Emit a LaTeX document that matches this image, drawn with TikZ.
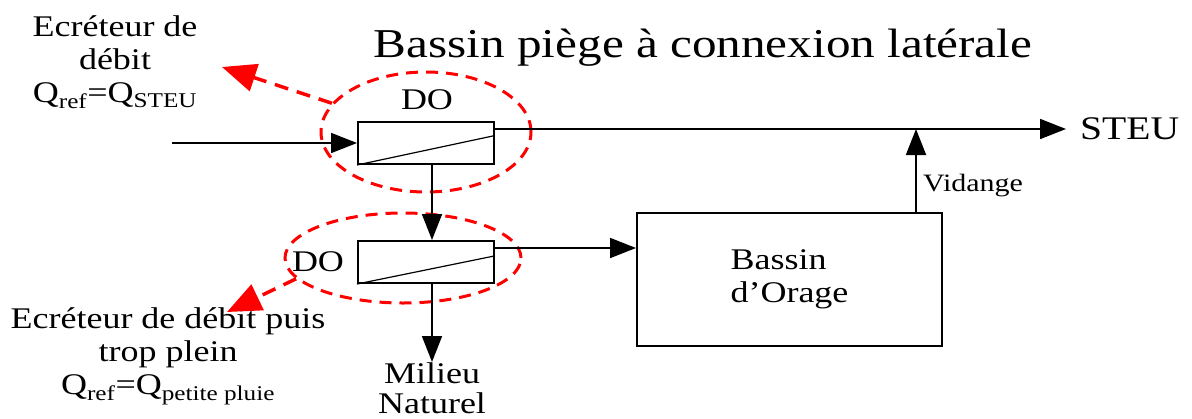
\documentclass[tikz,border=0pt]{standalone}
\usepackage{fontspec}
\setmainfont{Liberation Serif}[FakeStretch=1.2]
\usetikzlibrary{arrows.meta, positioning, shapes.geometric, calc}
\tikzset{
    dobox/.style={rectangle, draw, line width=2pt, minimum width=136pt, minimum height=42pt, inner sep=0pt},
    basinbox/.style={rectangle, draw, line width=2pt, minimum width=305pt, minimum height=133pt, inner sep=0pt, align=left, font=\fontsize{30}{33}\selectfont},
    ring/.style={ellipse, draw=red, line width=3pt, dash pattern=on 12pt off 8pt, inner sep=0pt},
    arrow/.style={-{Triangle[length=26pt,width=20pt]}, line width=1.8pt},
    redarrow/.style={-{Triangle[length=34pt,width=28pt]}, draw=red, line width=3.5pt, dash pattern=on 14pt off 9pt},
    lbl/.style={font=\fontsize{30}{33}\selectfont, align=center, inner sep=0pt},
}

\begin{document}
\begin{tikzpicture}[x=1pt, y=-1pt]
\useasboundingbox (0,0) rectangle (1192,418);

% Title
\node[lbl, font=\fontsize{41}{45}\selectfont] (title) at (703,48) {Bassin piège à connexion latérale};

% Regulators (DO) and storm basin
\node[dobox] (do1) at (426,143) {};
\draw[line width=1.2pt] (do1.south west) -- ($(do1.north east)!0.33!(do1.south east)$);
\node[dobox] (do2) at (426,262) {};
\draw[line width=1.2pt] (do2.south west) -- ($(do2.north east)!0.36!(do2.south east)$);
\node[basinbox] (bassin) at (789.5,279.5) {Bassin\\d'Orage};

\node[lbl] (dolbl1) at (427,100) {DO};
\node[lbl] (dolbl2) at (318,262) {DO};

% Red dashed highlights
\node[ring, minimum width=210pt, minimum height=120pt] (ring1) at (426,132) {};
\node[ring, minimum width=236pt, minimum height=90pt] (ring2) at (403,258) {};

% Outputs
\node[lbl, anchor=west, font=\fontsize{33}{36}\selectfont] (steu) at (1080,129) {STEU};
\node[lbl, anchor=north, font=\fontsize{30}{30}\selectfont] (milieu) at (432,362) {Milieu\\Naturel};

% Side notes
\node[lbl] (ecr1) at (115,62) {Ecréteur de\\débit\\Q\textsubscript{ref}=Q\textsubscript{STEU}};
\node[lbl] (ecr2) at (168,356) {Ecréteur de débit puis\\trop plein\\Q\textsubscript{ref}=Q\textsubscript{petite pluie}};

% Flows
\coordinate (in) at (172,143);
\draw[arrow] (in) -- (do1.west);
\draw[arrow] (do1.east |- steu.west) -- ([xshift=-14pt]steu.west);
\draw[arrow] ([xshift=6pt]do1.south) -- ([xshift=6pt]do2.north);
\coordinate (do2out) at ([yshift=14pt]do2.east);
\draw[arrow] (do2out) -- (do2out -| bassin.west);
\draw[arrow] ([xshift=6pt]do2.south) -- (milieu.north);
\coordinate (vd) at ($(bassin.north east)+(-27,0)$);
\draw[arrow] (vd) -- (vd |- steu.west);
\node[lbl, anchor=west, font=\fontsize{25}{28}\selectfont] (vidange) at ($(vd)+(7,-26)$) {Vidange};

% Red pointers
\coordinate (tip1) at (222,67);
\coordinate (tip2) at (227,312);
\draw[redarrow] (ring1.163) -- (tip1);
\draw[redarrow] (ring2.191) -- (tip2);
\end{tikzpicture}
\end{document}
